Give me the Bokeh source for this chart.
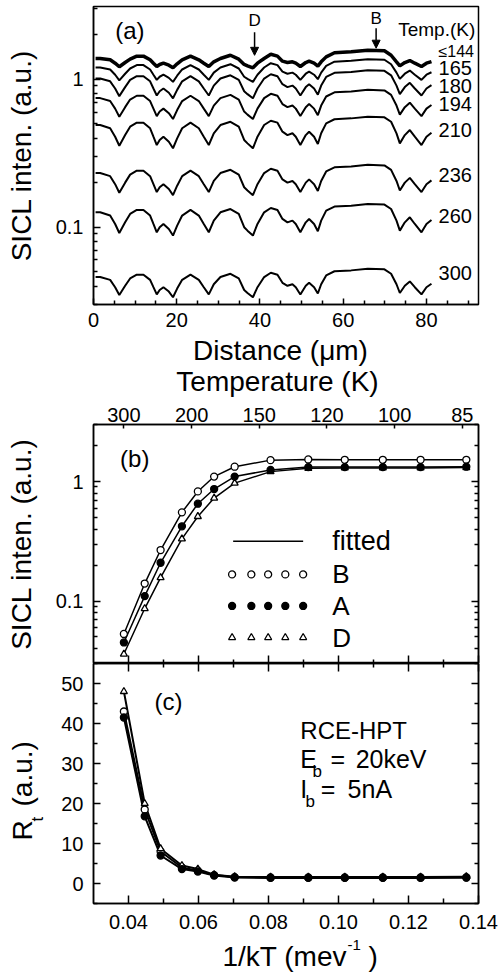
import numpy as np
from math import pi
from bokeh.plotting import figure
from bokeh.models import Range1d, LinearAxis, FixedTicker, Label, Arrow, NormalHead
from bokeh.layouts import column, row
from bokeh.embed import file_html
from bokeh.resources import INLINE

# ---------------- data ----------------
# (a) SICL line-scan profile, log10 offset vs. start level
dist_um = [0.5, 1.6, 4.0, 5.2, 6.2, 7.6, 8.8, 10.4, 12.0, 13.6, 14.4, 15.2, 15.9, 16.8, 18.1,
           19.1, 20.1, 21.3, 23.3, 25.3, 26.5, 27.7, 28.9, 30.5, 32.9, 34.9, 36.2, 37.0, 38.3,
           39.4, 41.0, 42.6, 44.2, 45.4, 46.6, 47.8, 48.6, 49.7, 51.0, 51.8, 53.0, 53.9, 54.7,
           55.9, 57.9, 61.9, 65.9, 69.9, 71.5, 72.8, 73.6, 74.8, 76.0, 77.2, 78.8, 80.0, 81.2]
profile_dec = [0, 0, -0.022, -0.079, -0.140, -0.068, -0.011, 0.016, 0.016, -0.022, -0.079, -0.135,
               -0.101, -0.079, -0.113, -0.157, -0.090, -0.022, 0.016, -0.022, -0.079, -0.135,
               -0.056, 0.0, 0.022, -0.011, -0.101, -0.124, -0.157, -0.079, 0.0, 0.029, 0.016,
               -0.045, -0.068, -0.056, -0.079, -0.135, -0.068, -0.045, -0.079, -0.128, -0.056,
               0.011, 0.039, 0.045, 0.056, 0.052, 0.022, -0.056, -0.124, -0.068, -0.034, -0.079,
               -0.135, -0.079, -0.052]
curve_temps = ["\u2264144", "165", "180", "194", "210", "236", "260", "300"]
curve_levels = [1.38, 1.20, 1.01, 0.745, 0.49, 0.232, 0.126, 0.046]
curve_contrast = [0.40, 0.62, 0.85, 0.90, 1.0, 0.95, 1.0, 0.87]
curve_label_y = [1.53, 1.187, 0.897, 0.678, 0.452, 0.2245, 0.1187, 0.0489]
marker_names = ["D", "B"]
marker_pos_um = [38.7, 67.9]

# (b), (c)
temps_K = [300, 260, 236, 210, 194, 180, 165, 144, 127, 114, 103, 94, 85]
sicl_B = [0.053, 0.14, 0.267, 0.552, 0.826, 1.10, 1.33, 1.51, 1.53, 1.52, 1.52, 1.52, 1.52]
sicl_A = [0.045, 0.110, 0.209, 0.422, 0.652, 0.865, 1.10, 1.25, 1.32, 1.32, 1.32, 1.32, 1.33]
sicl_D = [0.036, 0.0865, 0.157, 0.331, 0.51, 0.727, 0.97, 1.21, 1.29, 1.30, 1.30, 1.30, 1.31]
rt_B = [43.0, 18.5, 8.0, 4.0, 3.2, 2.1, 1.6, 1.5, 1.5, 1.5, 1.5, 1.5, 1.5]
rt_A = [41.5, 16.8, 7.0, 3.6, 3.0, 2.0, 1.5, 1.4, 1.4, 1.4, 1.4, 1.4, 1.5]
rt_D = [48.0, 20.0, 8.7, 4.5, 3.6, 2.2, 1.7, 1.6, 1.6, 1.6, 1.6, 1.6, 1.7]
temp_tick_K = [300, 200, 150, 120, 100, 600 / 7]
temp_tick_labels = ["300", "200", "150", "120", "100", "85"]
x_ticks = [0.04, 0.06, 0.08, 0.10, 0.12, 0.14]
x_minor = [0.05, 0.07, 0.09, 0.11, 0.13]
x_tick_labels = ["0.04", "0.06", "0.08", "0.10", "0.12", "0.14"]
K_B = 8.617333e-2  # meV/K

FONT = "Liberation Sans"
W = 502
inv_kT = [1.0 / (K_B * t) for t in temps_K]


def axstyle(ax, mj=7, mn=4, size="20px", standoff=6, labels=True, ticks=None):
    ax.major_tick_in = mj
    ax.major_tick_out = 0
    ax.minor_tick_in = mn
    ax.minor_tick_out = 0
    for a in ("major_tick_line", "minor_tick_line", "axis_line"):
        setattr(ax, a + "_color", "black")
        setattr(ax, a + "_width", 1.5)
    ax.major_label_text_font = FONT
    ax.major_label_text_color = "black"
    if labels:
        ax.major_label_text_font_size = size
        ax.major_label_standoff = standoff
    else:
        ax.major_label_text_font_size = "0px"
        ax.major_label_standoff = 0
        if ticks is not None:
            ax.major_label_overrides = {t: "" for t in ticks}
    ax.axis_label_text_font = FONT
    ax.axis_label_text_font_style = "normal"
    ax.axis_label_text_font_size = "28px"
    ax.axis_label_text_color = "black"


def base(p):
    p.outline_line_color = "black"
    p.outline_line_width = 1.5
    p.xgrid.visible = False
    p.ygrid.visible = False
    p.background_fill_color = "white"
    p.border_fill_color = "white"


def lab(p, x, y, text, size, align="left", baseline="middle", angle=0):
    p.add_layout(Label(x=x, y=y, text=text, text_font=FONT, text_font_size=size,
                       text_align=align, text_baseline=baseline, angle=angle,
                       text_color="black"))


def strip(w, h):
    s = figure(width=w, height=h, x_range=Range1d(0, w), y_range=Range1d(0, h),
               x_axis_location=None, y_axis_location=None, output_backend="svg",
               toolbar_location=None, min_border=0, frame_align=False)
    s.outline_line_color = None
    s.xgrid.visible = False
    s.ygrid.visible = False
    s.background_fill_color = "white"
    s.border_fill_color = "white"
    return s


# ---------------- panel (a) ----------------
pa = figure(width=W, height=335, x_range=Range1d(0, 92.5),
            y_range=Range1d(0.03, 3.1), y_axis_type="log", output_backend="svg",
            toolbar_location=None, min_border_left=93, min_border_right=24,
            min_border_top=6, min_border_bottom=31)
base(pa)
pa.xaxis.ticker = FixedTicker(ticks=[0, 20, 40, 60, 80],
                              minor_ticks=[5, 10, 15, 25, 30, 35, 45, 50, 55, 65, 70, 75, 85, 90])
axstyle(pa.xaxis[0], mj=6, mn=4, size="20px", standoff=8)
yminor = [0.03, 0.04, 0.05, 0.06, 0.07, 0.08, 0.09, 0.2, 0.3, 0.4, 0.5, 0.6, 0.7, 0.8, 0.9, 2, 3]
pa.yaxis.ticker = FixedTicker(ticks=[0.1, 1.0], minor_ticks=yminor)
pa.yaxis.major_label_overrides = {0.1: "0.1", 1.0: "1"}
axstyle(pa.yaxis[0], mj=7, mn=4, size="20px", standoff=10)
pa.yaxis.axis_label = "SICL inten. (a.u.)"
pa.yaxis.axis_label_standoff = 16

xa = np.array(dist_um)
prof = np.array(profile_dec)
for name, lvl, c, ly in zip(curve_temps, curve_levels, curve_contrast, curve_label_y):
    off = np.where(prof > 0, prof, prof * c)
    ya = lvl * 10 ** off
    pa.line(xa, ya, line_color="black", line_width=3.5 if name.startswith("\u2264") else 2.0)
    lab(pa, 82.9, ly, name, "16px" if name.startswith("\u2264") else "20px")

lab(pa, 5.2, 2.14, "(a)", "24px")
lab(pa, 73.2, 2.18, "Temp.(K)", "19px")
for nm, xm, yl_, y0, y1 in zip(marker_names, marker_pos_um, [2.50, 2.58], [2.08, 2.21], [1.45, 1.62]):
    lab(pa, xm, yl_, nm, "17px", align="center")
    pa.add_layout(Arrow(x_start=xm, y_start=y0, x_end=xm, y_end=y1, line_width=1.5,
                        line_color="black",
                        end=NormalHead(size=8, fill_color="black", line_color="black")))

# strip with "Distance" and "Temperature" titles
s1 = strip(W, 63)
lab(s1, 280, 48, "Distance (\u03bcm)", "28px", align="center")
lab(s1, 277, 17, "Temperature (K)", "28px", align="center")

# ---------------- panel (b) ----------------
pb = figure(width=W, height=265, x_range=Range1d(0.03, 0.14),
            y_range=Range1d(0.03, 3.0), y_axis_type="log", output_backend="svg",
            toolbar_location=None, min_border_left=93, min_border_right=24,
            min_border_top=26, min_border_bottom=0)
base(pb)
pb.xaxis.ticker = FixedTicker(ticks=x_ticks, minor_ticks=x_minor)
axstyle(pb.xaxis[0], mj=8, mn=4, labels=False, ticks=x_ticks)
pb.yaxis.ticker = FixedTicker(ticks=[0.1, 1.0], minor_ticks=yminor)
pb.yaxis.major_label_overrides = {0.1: "0.1", 1.0: "1"}
axstyle(pb.yaxis[0], mj=7, mn=4, size="20px", standoff=10)
pb.yaxis.axis_label = "SICL inten. (a.u.)"
pb.yaxis.axis_label_standoff = 16
tt = [1.0 / (K_B * t) for t in temp_tick_K]
top = LinearAxis(ticker=FixedTicker(ticks=tt, minor_ticks=[]),
                 major_label_overrides=dict(zip(tt, temp_tick_labels)))
axstyle(top, mj=4, mn=0, size="20px", standoff=3)
pb.add_layout(top, "above")
rb = LinearAxis(ticker=FixedTicker(ticks=[0.1, 1.0], minor_ticks=yminor))
pb.add_layout(rb, "right")
axstyle(rb, mj=7, mn=4, labels=False, ticks=[0.1, 1.0])

series = [(sicl_B, rt_B, "circle", "white"), (sicl_D, rt_D, "triangle", "white"),
          (sicl_A, rt_A, "circle", "black")]
for sv, rv, mk, fc in series:
    pb.line(inv_kT, sv, line_color="black", line_width=1.5)
for sv, rv, mk, fc in series:
    pb.scatter(inv_kT, sv, marker=mk, size=7, fill_color=fc, line_color="black", line_width=1.3)

# legend sample (positions)
leg_x = [0.0696, 0.0751, 0.0799, 0.0848, 0.0899]
leg_rows = [("B", 0.167, "circle", "white"), ("A", 0.0909, "circle", "black"),
            ("D", 0.0495, "triangle", "white")]
pb.line([0.0699, 0.0899], [0.316, 0.316], line_color="black", line_width=1.5)
for nm, ly, mk, fc in leg_rows:
    pb.scatter(leg_x, [ly] * 5, marker=mk, size=7, fill_color=fc, line_color="black", line_width=1.3)
    lab(pb, 0.0982, ly, nm, "26px")
lab(pb, 0.0982, 0.316, "fitted", "27px")
lab(pb, 0.0376, 1.55, "(b)", "24px")

# ---------------- panel (c) ----------------
YLW = 48
CH = 274
pc = figure(width=W - YLW, height=CH, x_range=Range1d(0.03, 0.14),
            y_range=Range1d(-5, 55), output_backend="svg",
            toolbar_location=None, min_border_left=93 - YLW, min_border_right=24,
            min_border_top=0, min_border_bottom=34)
base(pc)
pc.xaxis.ticker = FixedTicker(ticks=x_ticks, minor_ticks=x_minor)
pc.xaxis.major_label_overrides = dict(zip(x_ticks, x_tick_labels))
axstyle(pc.xaxis[0], mj=8, mn=5, size="20px", standoff=11)
cy_ticks = [0, 10, 20, 30, 40, 50]
cy_minor = [-5, 5, 15, 25, 35, 45, 55]
pc.yaxis.ticker = FixedTicker(ticks=cy_ticks, minor_ticks=cy_minor)
axstyle(pc.yaxis[0], mj=7, mn=4, size="20px", standoff=10)
tc = LinearAxis(ticker=FixedTicker(ticks=x_ticks, minor_ticks=x_minor))
pc.add_layout(tc, "above")
axstyle(tc, mj=8, mn=4, labels=False, ticks=x_ticks)
rc = LinearAxis(ticker=FixedTicker(ticks=cy_ticks, minor_ticks=cy_minor))
pc.add_layout(rc, "right")
axstyle(rc, mj=7, mn=4, labels=False, ticks=cy_ticks)

for sv, rv, mk, fc in series:
    pc.line(inv_kT, rv, line_color="black", line_width=2)
for sv, rv, mk, fc in series:
    pc.scatter(inv_kT, rv, marker=mk, size=7, fill_color=fc, line_color="black", line_width=1.3)

lab(pc, 0.0474, 45.6, "(c)", "24px")
lab(pc, 0.0891, 38.25, "RCE-HPT", "24px")
lab(pc, 0.0891, 31.25, "E", "25px")
lab(pc, 0.0926, 28.0, "b", "17px")
lab(pc, 0.0977, 31.25, "=", "25px")
lab(pc, 0.1049, 31.25, "20keV", "25px")
lab(pc, 0.0891, 23.75, "I", "25px")
lab(pc, 0.0906, 20.5, "b", "17px")
lab(pc, 0.0949, 23.75, "=", "25px")
lab(pc, 0.1026, 23.75, "5nA", "25px")

# y-axis title of (c): R_t (a.u.)
yl = strip(YLW, CH)
lab(yl, 22, 97, "R", "28px", angle=pi / 2)
lab(yl, 37, 116, "t", "17px", angle=pi / 2)
lab(yl, 22, 131, "(a.u.)", "28px", angle=pi / 2)

# x-axis title of (c): 1/kT (mev^-1)
s2 = strip(W, 38)
lab(s2, 222, 19, "1/kT (mev", "28px")
lab(s2, 347, 31, "-1", "15px")
lab(s2, 368, 19, ")", "28px")

layout = column(pa, s1, pb, row(yl, pc, spacing=0), s2, spacing=0)
open("out.html", "w").write(file_html(layout, INLINE))
